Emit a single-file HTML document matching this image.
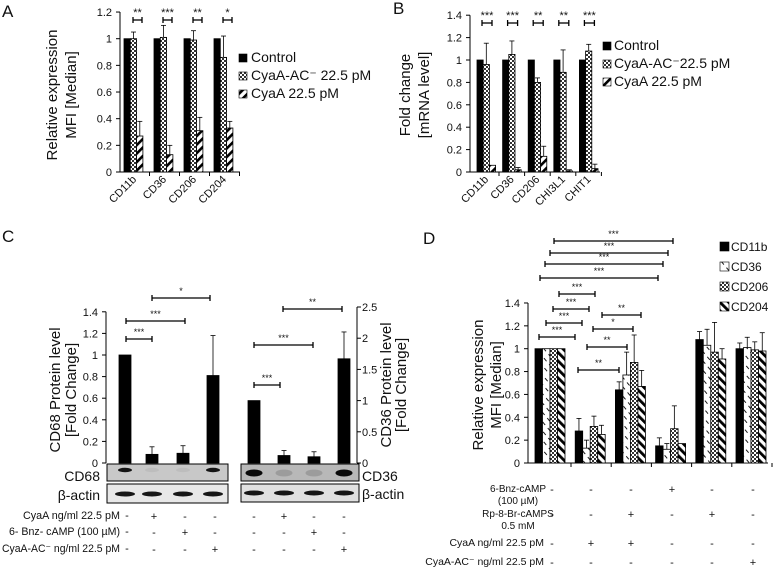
<!DOCTYPE html>
<html><head><meta charset="utf-8"><style>
html,body{margin:0;padding:0;background:#fff}
svg{display:block;font-family:"Liberation Sans",Arial,sans-serif}
</style></head><body>
<svg id="fig" width="774" height="571" viewBox="0 0 774 571" xmlns="http://www.w3.org/2000/svg">
<defs>
<pattern id="pCheck" width="4" height="4" patternUnits="userSpaceOnUse"><rect width="4" height="4" fill="#fff"/><rect width="2" height="2" fill="#333"/><rect x="2" y="2" width="2" height="2" fill="#333"/></pattern>
<pattern id="pHatch" width="6" height="6" patternUnits="userSpaceOnUse" patternTransform="rotate(45)"><rect width="6" height="6" fill="#fff"/><rect width="2.6" height="6" fill="#000"/></pattern>
<pattern id="pBack" width="6" height="6" patternUnits="userSpaceOnUse" patternTransform="rotate(-45)"><rect width="6" height="6" fill="#fff"/><rect width="2.8" height="6" fill="#000"/></pattern>
<pattern id="pSparse" width="6" height="8" patternUnits="userSpaceOnUse" patternTransform="rotate(-40)"><rect width="6" height="8" fill="#fff"/><rect width="0.9" height="4" fill="#000"/></pattern>
</defs>
<g id="root"></g>
</svg>
<script>
// Panel A data
const aCats=["CD11b","CD36","CD206","CD204"];
const aCtrl=[1,1,1,1];
const aAC=[1.0,1.01,0.99,0.86];
const aACerr=[0.05,0.09,0.07,0.16];
const aCya=[0.27,0.13,0.31,0.33];
const aCyaErr=[0.11,0.07,0.10,0.05];
const aStars=["**","***","**","*"];
const aTicks=[0,0.2,0.4,0.6,0.8,1,1.2];
// Panel B data
const bCats=["CD11b","CD36","CD206","CHI3L1","CHIT1"];
const bCtrl=[1,1,1,1,1];
const bAC=[0.96,1.05,0.80,0.89,1.08];
const bACerr=[0.19,0.12,0.04,0.20,0.06];
const bCya=[0.06,0.02,0.14,0.01,0.03];
const bCyaErr=[0,0.02,0.09,0.01,0.04];
const bStars=["***","***","**","**","***"];
const bTicks=[0,0.2,0.4,0.6,0.8,1,1.2,1.4];
// Panel C data
const cLeft=[1,0.08,0.09,0.81];
const cLeftErr=[0,0.07,0.07,0.37];
const cRight=[1.0,0.12,0.10,1.67];
const cRightErr=[0,0.08,0.08,0.43];
const cLeftTicks=[0,0.2,0.4,0.6,0.8,1,1.2,1.4];
const cRightTicks=[0,0.5,1,1.5,2,2.5];
const cRowCyaA=["-","+","-","-"];
const cRowBnz=["-","-","+","-"];
const cRowAC=["-","-","-","+"];
// Panel D data
const dSeries=["CD11b","CD36","CD206","CD204"];
const dCD11b=[1,0.28,0.64,0.15,1.08,1.0];
const dCD36=[1,0.13,0.77,0.12,1.03,1.01];
const dCD206=[1,0.32,0.88,0.30,0.97,0.99];
const dCD204=[1,0.25,0.67,0.17,0.91,0.98];
const dErr11b=[0,0.11,0.07,0.07,0.07,0.05];
const dErr36=[0,0.07,0.20,0.05,0.14,0.09];
const dErr206=[0,0.09,0.24,0.20,0.26,0.07];
const dErr204=[0,0.08,0.14,0,0.09,0.16];
const dTicks=[0,0.2,0.4,0.6,0.8,1,1.2,1.4];
const dRowBnz=["-","-","-","+","-","-"];
const dRowRp=["-","-","+","-","+","-"];
const dRowCya=["-","+","+","-","-","-"];
const dRowAC=["-","-","-","-","-","+"];

const NS="http://www.w3.org/2000/svg";
const root=document.getElementById('root');
function el(tag,attrs,parent,name,inter){
  const e=document.createElementNS(NS,tag);
  for(const k in attrs)e.setAttribute(k,attrs[k]);
  
  
  (parent||root).appendChild(e);return e;
}
function txt(x,y,s,size,anchor,parent,name,extra){
  const t=el('text',Object.assign({x:x,y:y,'font-size':size,'text-anchor':anchor||'start',fill:'#111'},extra||{}),parent,name);
  t.textContent=s;return t;
}
function line(x1,y1,x2,y2,w,name){return el('line',{x1:x1,y1:y1,x2:x2,y2:y2,stroke:'#000','stroke-width':w||1},root,name);}
function bar(x,w,y0,y1,fill,name){return el('rect',{x:x,y:Math.min(y0,y1),width:w,height:Math.abs(y0-y1),fill:fill,stroke:'#000','stroke-width':0.8},root,name);}
function err(cx,yTop,yErr,name){ if(Math.abs(yTop-yErr)<0.5)return; line(cx,yTop,cx,yErr,0.8,name);line(cx-2.5,yErr,cx+2.5,yErr,0.8,name+'-cap');}
function bracket(x1,x2,y,s,name,sz){
  line(x1,y,x2,y,1.3,name);line(x1,y-3,x1,y+3,1.3,name+'-l');line(x2,y-3,x2,y+3,1.3,name+'-r');
  txt((x1+x2)/2,y-4,s,sz||9,'middle',null,name+'-stars');
}
function yaxis(x,scale,ticks,fmt,side,name){
  line(x,scale(ticks[ticks.length-1]),x,scale(ticks[0]),1,name);
  ticks.forEach(t=>{
    const y=scale(t);
    line(side>0?x:x-4,y,side>0?x+4:x,y,1,name+'-tick');
    txt(side>0?x+5:x-8,y+4,fmt(t),11,side>0?'start':'end',null,name+'-label');
  });
}
function ytitle(x,cy,s,name){txt(0,0,s,15,'middle',null,name,{transform:'translate('+x+','+cy+') rotate(-90)'});}
function fmtN(t){return String(t);}

// ===== Panel A =====
txt(2,17,"A",17,'start',null,'panel-a-letter');
const aY=v=>172-v*133.3;
yaxis(120,aY,aTicks,fmtN,-1,'a-y-axis');
line(120,172,240,172,1,'a-x-axis');
ytitle(57,95,"Relative expression",'a-y-title-1');
ytitle(76,95,"MFI [Median]",'a-y-title-2');
aCats.forEach((c,i)=>{
  const gx=124+i*30;
  line(gx+25.5,172,gx+25.5,176,1,'a-x-tick');
  bar(gx,6.3,aY(0),aY(aCtrl[i]),'#000','a-bar-control-'+c);
  bar(gx+6.3,6.3,aY(0),aY(aAC[i]),'url(#pCheck)','a-bar-ac-'+c);
  bar(gx+12.6,6.3,aY(0),aY(aCya[i]),'url(#pHatch)','a-bar-cyaa-'+c);
  err(gx+9.5,aY(aAC[i]),aY(aAC[i]+aACerr[i]),'a-err-ac');
  err(gx+15.8,aY(aCya[i]),aY(aCya[i]+aCyaErr[i]),'a-err-cyaa');
  bracket(gx+9,gx+18,20,aStars[i],'a-sig-'+c,11);
  txt(0,0,c,11,'end',null,'a-x-label',{transform:'translate('+(gx+13)+',180) rotate(-45)'});
});
[["Control","#000"],["CyaA-AC\u207B 22.5 pM","url(#pCheck)"],["CyaA 22.5 pM","url(#pHatch)"]].forEach((l,i)=>{
  const y=62+i*18;
  el('rect',{x:239,y:y-8,width:8,height:8,fill:l[1],stroke:'#000','stroke-width':0.6},root,'a-legend-swatch');
  txt(251,y,l[0],14,'start',null,'a-legend-entry');
});

// ===== Panel B =====
txt(393,14,"B",17,'start',null,'panel-b-letter');
const bY=v=>172-v*112;
yaxis(470,bY,bTicks,fmtN,-1,'b-y-axis');
line(470,172,600,172,1,'b-x-axis');
ytitle(410,95,"Fold change",'b-y-title-1');
ytitle(429,95,"[mRNA level]",'b-y-title-2');
bCats.forEach((c,i)=>{
  const gx=477+i*25.6;
  line(gx+22,172,gx+22,176,1,'b-x-tick');
  bar(gx,6.2,bY(0),bY(bCtrl[i]),'#000','b-bar-control-'+c);
  bar(gx+6.2,6.2,bY(0),bY(bAC[i]),'url(#pCheck)','b-bar-ac-'+c);
  bar(gx+12.4,6.2,bY(0),bY(bCya[i]),'url(#pHatch)','b-bar-cyaa-'+c);
  err(gx+9.3,bY(bAC[i]),bY(bAC[i]+bACerr[i]),'b-err-ac');
  err(gx+15.5,bY(bCya[i]),bY(bCya[i]+bCyaErr[i]),'b-err-cyaa');
  bracket(gx+5,gx+15,23,bStars[i],'b-sig-'+c,11);
  txt(0,0,c,11,'end',null,'b-x-label',{transform:'translate('+(gx+12)+',180) rotate(-45)'});
});
[["Control","#000"],["CyaA-AC\u207B22.5 pM","url(#pCheck)"],["CyaA 22.5 pM","url(#pHatch)"]].forEach((l,i)=>{
  const y=50+i*18;
  el('rect',{x:603,y:y-8,width:8,height:8,fill:l[1],stroke:'#000','stroke-width':0.6},root,'b-legend-swatch');
  txt(614,y,l[0],14,'start',null,'b-legend-entry');
});

// ===== Panel C =====
txt(2,242,"C",17,'start',null,'panel-c-letter');
const cLY=v=>463-v*108;
const cRY=v=>463-v*62.4;
yaxis(106,cLY,cLeftTicks,fmtN,-1,'c-left-y-axis');
yaxis(357,cRY,cRightTicks,fmtN,1,'c-right-y-axis');
ytitle(60,390,"CD68 Protein level",'c-left-y-title-1');
ytitle(76,390,"[Fold Change]",'c-left-y-title-2');
ytitle(391,385,"CD36 Protein level",'c-right-y-title-1');
ytitle(406,385,"[Fold Change]",'c-right-y-title-2');
const cLX=[125,152,183,213], cRX=[254,284,314,344];
cLeft.forEach((v,i)=>{bar(cLX[i]-6,12,cLY(0),cLY(v),'#000','c-cd68-bar');err(cLX[i],cLY(v),cLY(v+cLeftErr[i]),'c-cd68-err');});
cRight.forEach((v,i)=>{bar(cRX[i]-6,12,cRY(0),cRY(v),'#000','c-cd36-bar');err(cRX[i],cRY(v),cRY(v+cRightErr[i]),'c-cd36-err');});
bracket(152,210,298,"*",'c-sig-1',9);
bracket(126,185,321,"***",'c-sig-2',9);
bracket(126,152,339,"***",'c-sig-3',9);
bracket(283,342,309,"**",'c-sig-4',9);
bracket(254,313,345,"***",'c-sig-5',9);
bracket(254,280,385,"***",'c-sig-6',9);
function blot(x1,x2,y1,y2,bg,name){el('rect',{x:x1,y:y1,width:x2-x1,height:y2-y1,fill:bg,stroke:'#000','stroke-width':1},root,name);}
function band(cx,cy,w,h,op,name){el('ellipse',{cx:cx,cy:cy,rx:w,ry:h,fill:'#000','fill-opacity':op},root,name);}
blot(107,228,464,481,'#c8c8c8','c-cd68-blot');
blot(107,228,484,503,'#e8e8e8','c-left-actin-blot');
blot(241,359,464,481,'#b8b8b8','c-cd36-blot');
blot(241,359,484,502,'#e0e0e0','c-right-actin-blot');
[0.9,0.05,0.05,0.9].forEach((o,i)=>band(cLX[i],470,7,2.2,o,'cd68-band'));
[0.95,0.15,0.15,0.95].forEach((o,i)=>band(cRX[i],473,8.5,3.5,o,'cd36-band'));
cLX.forEach(x=>band(x,494,10,2.5,0.9,'actin-band'));
cRX.forEach(x=>band(x,493,10,2.5,0.9,'actin-band'));
txt(100,481,"CD68",14,'end',null,'c-cd68-label');
txt(100,500,"\u03B2-actin",14,'end',null,'c-left-actin-label');
txt(362,481,"CD36",14,'start',null,'c-cd36-label');
txt(362,499,"\u03B2-actin",14,'start',null,'c-right-actin-label');
[["CyaA ng/ml 22.5 pM",cRowCyaA,519,97],["6- Bnz- cAMP (100 \u00B5M)",cRowBnz,535,111],["CyaA-AC\u207B ng/ml 22.5 pM",cRowAC,552,118]].forEach(r=>{
  txt(120,r[2],r[0],11,'end',null,'c-treatment-label',{textLength:r[3],lengthAdjust:'spacingAndGlyphs'});
  txt(127,r[2],"-",11,'middle',null,'c-treatment-mark');
  r[1].forEach((s,i)=>{ if(i>0) txt(cLX[i]+2,r[2]+1,s,11,'middle',null,'c-treatment-mark'); txt(cRX[i],r[2]+1,s,11,'middle',null,'c-treatment-mark');});
});

// ===== Panel D =====
txt(423,244,"D",17,'start',null,'panel-d-letter');
const dY=v=>463-v*114.3;
yaxis(528,dY,dTicks,fmtN,-1,'d-y-axis');
line(528,463,768,463,1,'d-x-axis');
ytitle(483,385,"Relative expression",'d-y-title-1');
ytitle(501,385,"MFI [Median]",'d-y-title-2');
const dVals=[dCD11b,dCD36,dCD206,dCD204], dErrs=[dErr11b,dErr36,dErr206,dErr204];
const dFills=['#000','url(#pSparse)','url(#pCheck)','url(#pBack)'];
for(let g=0;g<6;g++){
  const gx=535+g*40.2;
  line(gx+36,463,gx+36,467,1,'d-x-tick');
  for(let s=0;s<4;s++){
    const v=dVals[s][g];
    bar(gx+s*7.5,7.5,dY(0),dY(v),dFills[s],'d-bar-'+dSeries[s]);
    err(gx+s*7.5+3.75,dY(v),dY(v+dErrs[s][g]),'d-err-'+dSeries[s]);
  }
}
[[554,673,241,"***"],[550,668,253,"***"],[545,663,264,"***"],[540,658,278,"***"],
 [559,595,294,"***"],[553,589,309,"***"],[546,582,323,"***"],[539,575,337,"***"],
 [602,641,315,"**"],[593,633,329,"*"],[587,627,347,"**"],[578,619,370,"**"]].forEach((b,i)=>bracket(b[0],b[1],b[2],b[3],'d-sig-'+i,9));
dSeries.forEach((s,i)=>{
  const y=251+i*20;
  el('rect',{x:720,y:y-9,width:9,height:9,fill:dFills[i],stroke:'#000','stroke-width':0.6},root,'d-legend-swatch');
  txt(731,y,s,12,'start',null,'d-legend-entry');
});
const dColX=[552,591,631,672,712,753];
[["6-Bnz-cAMP",dRowBnz,492,"(100 \u00B5M)"],["Rp-8-Br-cAMPS",dRowRp,517,"0.5 mM"],["CyaA ng/ml 22.5 pM",dRowCya,546,null],["CyaA-AC\u207B ng/ml 22.5 pM",dRowAC,565,null]].forEach(r=>{
  if(r[3]){txt(518,r[2],r[0],10,'middle',null,'d-treatment-label');txt(518,r[2]+12,r[3],r[3].length>8?8.5:10,'middle',null,'d-treatment-label');}
  else txt(544,r[2],r[0],10.5,'end',null,'d-treatment-label');
  r[1].forEach((s,i)=>txt(dColX[i],r[2]+1,s,11,'middle',null,'d-treatment-mark'));
});
</script>
</body></html>
